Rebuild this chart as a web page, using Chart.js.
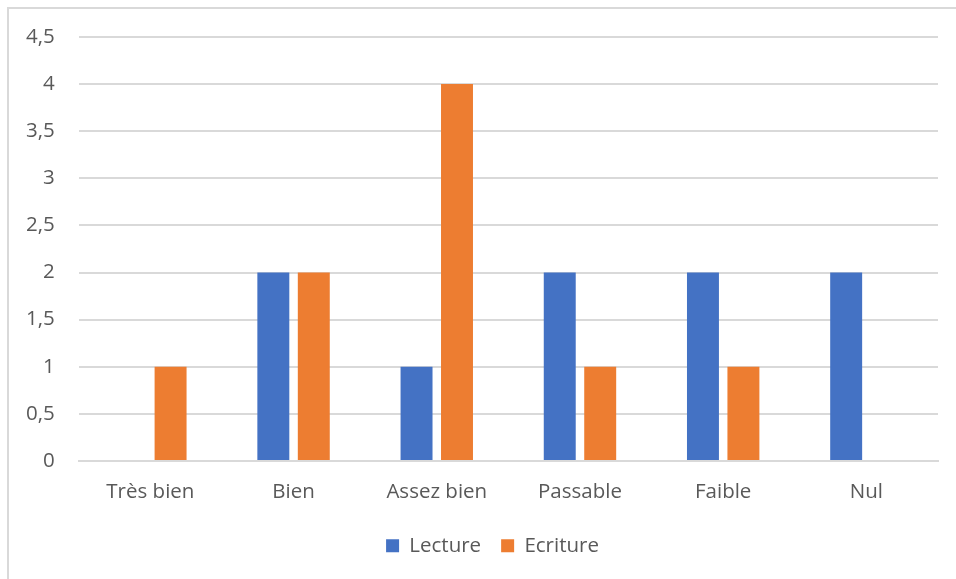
<!DOCTYPE html>
<html>
<head>
<meta charset="utf-8">
<script src="https://cdn.jsdelivr.net/npm/chart.js@4/dist/chart.umd.min.js"></script>
<style>
  html, body { margin: 0; padding: 0; background: #fff; }
  #wrap { position: relative; width: 956px; height: 579px; overflow: hidden; }
  #frame { position: absolute; left: 7px; top: 7px; width: 1000px; height: 1000px; border: 2px solid #d9d9d9; box-sizing: border-box; }
  canvas { position: absolute; left: 0; top: 0; }
</style>
</head>
<body>
<div id="wrap">
  <div id="frame"></div>
  <canvas id="c" width="956" height="579"></canvas>
</div>
<script>
const categories = ['Très bien', 'Bien', 'Assez bien', 'Passable', 'Faible', 'Nul'];
const lecture = [0, 2, 1, 2, 2, 2];
const ecriture = [1, 2, 4, 1, 1, 0];
const yTickLabels = ['0', '0,5', '1', '1,5', '2', '2,5', '3', '3,5', '4', '4,5'];

const FONT = "'Open Sans', 'Liberation Sans', sans-serif";
const FS = 20.5;

// shift the legend block so it is centred like the reference
const legendShift = {
  id: 'legendShift',
  afterLayout(chart) {
    if (chart.legend) { chart.legend.left += 45; }
  }
};

new Chart(document.getElementById('c'), {
  type: 'bar',
  data: {
    labels: categories,
    datasets: [
      { label: 'Lecture', data: lecture, backgroundColor: '#4472C4', borderWidth: 0 },
      { label: 'Ecriture', data: ecriture, backgroundColor: '#ED7D31', borderWidth: 0 }
    ]
  },
  options: {
    responsive: false,
    animation: false,
    devicePixelRatio: 1,
    layout: { padding: { left: 2, right: 18, top: 37, bottom: 13 } },
    datasets: { bar: { categoryPercentage: 0.565, barPercentage: 0.79 } },
    scales: {
      x: {
        grid: { display: false, drawTicks: false },
        border: { display: true, color: '#d9d9d9', width: 2 },
        ticks: { color: '#595959', font: { family: FONT, size: FS }, padding: 19 },
        afterFit: (s) => { s.height -= 8; }
      },
      y: {
        min: 0, max: 4.5,
        grid: { color: '#d9d9d9', lineWidth: 2, drawTicks: false },
        border: { display: false },
        ticks: {
          stepSize: 0.5,
          color: '#595959',
          font: { family: FONT, size: FS },
          padding: 24,
          callback: (v) => yTickLabels[Math.round(v * 2)]
        }
      }
    },
    plugins: {
      tooltip: { enabled: false },
      legend: {
        position: 'bottom',
        labels: {
          color: '#595959',
          font: { family: FONT, size: FS },
          boxWidth: 13, boxHeight: 13,
          padding: 20
        }
      }
    }
  },
  plugins: [legendShift]
});
</script>
</body>
</html>
